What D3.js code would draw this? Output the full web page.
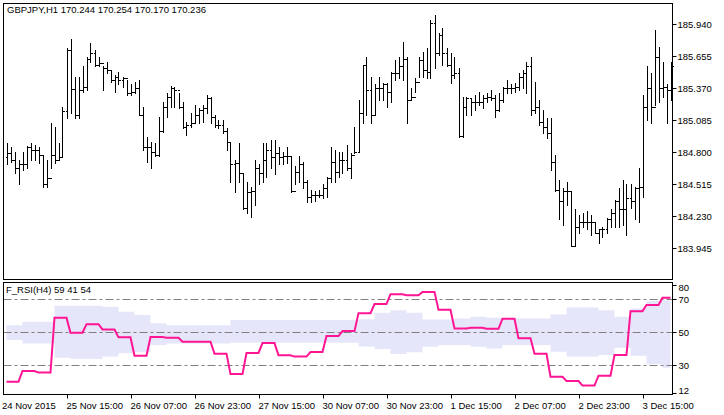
<!DOCTYPE html>
<html><head><meta charset="utf-8">
<script src="https://cdn.jsdelivr.net/npm/d3@7"></script>
<style>body{margin:0;background:#fff}svg{display:block}text{font-family:"Liberation Sans",Arial,sans-serif;font-size:9.5px;fill:#000}</style>
</head><body><svg id="c" width="724" height="415"></svg>
<script>
const highs=[184.88,184.84,184.80,184.73,184.80,184.85,184.88,184.86,184.84,184.77,184.73,185.06,185.02,184.88,185.20,185.72,185.80,185.47,185.47,185.56,185.64,185.77,185.71,185.64,185.56,185.60,185.53,185.48,185.51,185.47,185.44,185.40,185.42,185.44,185.20,184.93,184.89,184.88,185.11,185.24,185.32,185.39,185.38,185.32,185.24,185.07,185.15,185.22,185.19,185.22,185.31,185.29,185.13,185.08,185.08,185.01,184.89,184.73,184.88,184.61,184.53,184.49,184.73,184.69,184.88,184.88,184.91,184.91,184.84,184.80,184.84,184.76,184.67,184.76,184.71,184.55,184.46,184.45,184.46,184.51,184.58,184.84,184.82,184.80,184.80,184.86,184.79,185.02,185.26,185.57,185.64,185.47,185.40,185.47,185.41,185.41,185.51,185.62,185.64,185.78,185.64,185.37,185.46,185.64,185.69,185.72,185.97,186.02,185.86,185.90,185.72,185.68,185.64,185.55,185.29,185.29,185.28,185.31,185.33,185.31,185.32,185.35,185.31,185.32,185.38,185.44,185.40,185.41,185.50,185.53,185.60,185.64,185.42,185.26,185.17,185.10,185.10,184.77,184.55,184.48,184.53,184.45,184.29,184.24,184.26,184.27,184.24,184.18,184.11,184.13,184.21,184.29,184.37,184.48,184.55,184.51,184.51,184.49,184.66,185.31,185.56,185.50,185.88,185.73,185.60,185.40,185.60];
const lows=[184.69,184.71,184.61,184.51,184.64,184.66,184.73,184.73,184.70,184.49,184.49,184.66,184.70,184.73,184.75,185.10,185.15,185.10,185.10,185.33,185.35,185.60,185.56,185.56,185.35,185.50,185.42,185.33,185.40,185.38,185.31,185.31,185.32,185.13,184.82,184.71,184.66,184.76,184.76,184.98,185.11,185.20,185.20,185.19,185.01,184.95,185.02,185.06,185.06,185.07,185.15,185.06,185.02,185.01,184.97,184.82,184.53,184.44,184.53,184.29,184.26,184.22,184.33,184.51,184.53,184.58,184.66,184.60,184.69,184.69,184.70,184.44,184.51,184.53,184.48,184.35,184.35,184.36,184.40,184.39,184.40,184.53,184.53,184.58,184.61,184.64,184.57,184.79,184.80,185.06,185.13,185.06,185.13,185.26,185.26,185.20,185.24,185.44,185.46,185.44,185.06,185.26,185.33,185.47,185.47,185.46,185.46,185.55,185.66,185.57,185.56,185.41,185.46,184.93,184.93,185.13,185.13,185.17,185.22,185.19,185.24,185.26,185.11,185.16,185.24,185.32,185.32,185.33,185.35,185.37,185.32,185.13,185.15,185.04,184.97,184.92,184.64,184.45,184.20,184.15,184.33,183.96,183.96,184.08,184.13,184.11,184.06,184.08,183.99,184.04,184.08,184.13,184.13,184.13,184.15,184.06,184.30,184.20,184.18,184.40,185.08,185.06,185.22,185.24,185.29,185.06,185.26];
const closes=[184.79,184.73,184.66,184.69,184.69,184.84,184.82,184.82,184.77,184.51,184.57,184.77,184.73,184.75,185.16,185.71,185.36,185.13,185.35,185.38,185.63,185.68,185.57,185.59,185.55,185.53,185.44,185.47,185.44,185.46,185.32,185.33,185.37,185.13,184.84,184.84,184.80,184.77,184.99,185.20,185.29,185.37,185.35,185.20,185.02,185.04,185.06,185.13,185.17,185.19,185.28,185.11,185.04,185.04,184.99,184.89,184.69,184.70,184.61,184.30,184.44,184.45,184.66,184.61,184.73,184.82,184.75,184.79,184.75,184.76,184.76,184.45,184.62,184.69,184.53,184.40,184.42,184.42,184.42,184.48,184.57,184.71,184.62,184.73,184.73,184.66,184.77,184.80,185.15,185.57,185.35,185.13,185.37,185.37,185.40,185.33,185.50,185.50,185.56,185.63,185.26,185.29,185.42,185.62,185.53,185.51,185.95,185.68,185.84,185.68,185.57,185.48,185.50,184.94,185.20,185.28,185.24,185.24,185.24,185.28,185.29,185.28,185.17,185.26,185.37,185.37,185.37,185.38,185.47,185.50,185.56,185.17,185.20,185.07,185.02,184.97,184.71,184.46,184.36,184.45,184.45,183.96,184.13,184.18,184.18,184.18,184.18,184.08,184.11,184.11,184.20,184.26,184.36,184.29,184.29,184.39,184.36,184.48,184.49,185.20,185.37,185.20,185.64,185.37,185.38,185.35,185.56];
const firstOpen=184.75;
const opens=[firstOpen].concat(closes.slice(0,-1));
// H4 values (each spans 4 H1 bars)
const rsiH4=[20.1,26.6,25.6,58.9,49.8,55,51.8,47,35.9,47.2,46.8,44.3,44.3,37.1,24.7,37.5,43.5,36.1,35.3,38.1,47.8,50.8,61.7,67.2,73.2,72.6,74.6,63.7,52.4,52.8,52.2,58.3,46.4,37.1,23.1,20.5,17.7,23.7,36.3,62.9,66.6,71.0];
const upperH4=[54.4,56.5,56.5,66.2,66.2,66.2,65.6,62.5,60.5,55.5,54.4,54.4,54.4,54.4,57.5,57.5,57.5,57.5,57.5,57.5,57.5,57.5,58,61.9,63.5,61.9,57.9,57.9,58.5,59.5,58.9,58.5,58.5,58.5,60.9,65.2,65.2,63.5,59.5,64.5,69,69.6];
const lowerH4=[45.4,43.3,43.3,34.6,33.8,33.8,35.3,37.3,37.9,42.3,43.3,43.3,43.3,43.3,43.7,43.7,43.7,43.7,43.7,43.7,43.7,43.7,41.5,39.9,36.9,37.9,41.3,42.3,42.3,41.3,40.3,42.3,42.3,42.3,38.3,35.3,35.3,36.3,40.7,35.9,30.6,28.6];
const priceTicks=[185.940,185.655,185.370,185.085,184.800,184.515,184.230,183.945];
const rsiTicks=[80,70,50,30,12];
const rsiLevels=[70,50,30];
const dateLabels=["24 Nov 2015","25 Nov 15:00","26 Nov 07:00","26 Nov 23:00","27 Nov 15:00","30 Nov 07:00","30 Nov 23:00","1 Dec 15:00","2 Dec 07:00","2 Dec 23:00","3 Dec 15:00"];
const dateBars=[-1,15,31,47,63,79,95,111,127,143,159];
const title="GBPJPY,H1  170.244 170.254 170.170 170.236";
const subTitle="F_RSI(H4) 59 41 54";

const svg=d3.select("#c");
const n=closes.length;
const x=d3.scaleLinear().domain([0,166]).range([6.5,670.5]);
const y=d3.scaleLinear().domain([183.945,185.940]).range([248,23.7]);
const yr=d3.scaleLinear().domain([12,80]).range([395,283]);
const L=3.5,R=672.5,T1=3.5,B1=279.5,T2=282.5,B2=394.5;

const g=svg.append("g").attr("stroke","#000").attr("stroke-width",1).attr("shape-rendering","crispEdges");
d3.range(n).forEach(i=>{
  const xi=Math.round(x(i))+0.5;
  g.append("line").attr("x1",xi).attr("x2",xi).attr("y1",Math.round(y(highs[i]))).attr("y2",Math.round(y(lows[i]))+1);
  g.append("line").attr("x1",xi-2).attr("x2",xi).attr("y1",Math.round(y(opens[i]))+0.5).attr("y2",Math.round(y(opens[i]))+0.5);
  g.append("line").attr("x1",xi).attr("x2",xi+2).attr("y1",Math.round(y(closes[i]))+0.5).attr("y2",Math.round(y(closes[i]))+0.5);
});

const perBar=a=>d3.range(n).map(i=>a[Math.min(a.length-1,Math.floor(i/4))]);
const rsi=perBar(rsiH4),up=perBar(upperH4),lo=perBar(lowerH4);
svg.append("clipPath").attr("id","cl").append("rect").attr("x",L).attr("y",T2).attr("width",R-L).attr("height",B2-T2);
const sub=svg.append("g").attr("clip-path","url(#cl)");
sub.append("path").datum(d3.range(n)).attr("fill","#e6e6fa")
  .attr("d",d3.area().x(i=>x(i)).y0(i=>yr(lo[i])).y1(i=>yr(up[i])).curve(d3.curveStepAfter));
rsiLevels.forEach(v=>sub.append("line").attr("x1",L).attr("x2",R).attr("y1",Math.round(yr(v))+0.5).attr("y2",Math.round(yr(v))+0.5)
  .attr("stroke","#808080").attr("stroke-dasharray","8,3,3,3"));
sub.append("path").datum(d3.range(n)).attr("fill","none").attr("stroke","#ff1493").attr("stroke-width",2)
  .attr("d",d3.line().x(i=>x(i)).y(i=>yr(rsi[i])));

[[T1,B1],[T2,B2]].forEach(([t,b])=>svg.append("rect").attr("x",L).attr("y",t).attr("width",R-L).attr("height",b-t).attr("fill","none").attr("stroke","#000"));

const ax=svg.append("g").attr("transform",`translate(${R},0)`);
priceTicks.forEach(p=>{
  const yy=Math.round(y(p))+0.5;
  ax.append("line").attr("x1",0).attr("x2",4).attr("y1",yy).attr("y2",yy).attr("stroke","#000");
  ax.append("text").attr("x",5).attr("y",yy+3.5).text(p.toFixed(3));
});
rsiTicks.forEach(v=>{
  const yy=Math.round(Math.max(T2+2,Math.min(B2-2,yr(v))))+0.5;
  ax.append("line").attr("x1",0).attr("x2",4).attr("y1",yy).attr("y2",yy).attr("stroke","#000");
  ax.append("text").attr("x",6).attr("y",Math.max(T2+8,Math.min(B2-1,yy+3.5))).text(v);
});
dateLabels.forEach((t,k)=>{
  const b=dateBars[k];
  if(b>=0){const xx=Math.round(x(b))+0.5;
    svg.append("line").attr("x1",xx).attr("x2",xx).attr("y1",B2).attr("y2",B2+4).attr("stroke","#000");
    svg.append("text").attr("x",xx-1).attr("y",409).text(t);}
  else svg.append("text").attr("x",2).attr("y",409).text(t);
});
svg.append("text").attr("x",7).attr("y",13).text(title);
svg.append("text").attr("x",6).attr("y",293).text(subTitle);
</script></body></html>
